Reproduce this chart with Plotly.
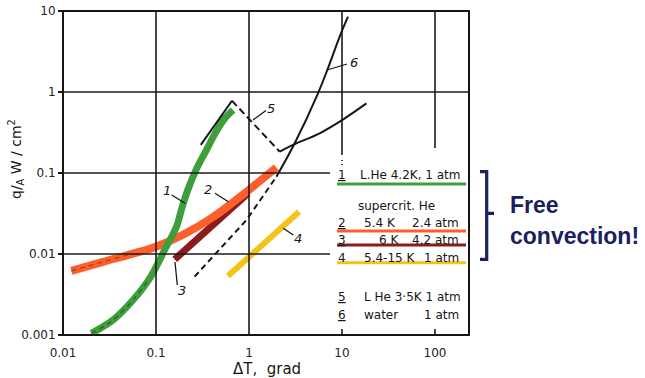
import plotly.graph_objects as go

# ---------------- data ----------------
# 1: L.He 4.2 K, 1 atm (green)
c1_x = [0.0202, 0.0345, 0.0566, 0.0855, 0.129, 0.166, 0.19, 0.22, 0.27, 0.348, 0.447, 0.548, 0.673]
c1_y = [0.00105, 0.00153, 0.0027, 0.005, 0.0123, 0.0217, 0.037, 0.062, 0.11, 0.192, 0.33, 0.47, 0.6]
# 2: supercrit. He 5.4 K 2.4 atm (orange)
c2_x = [0.0123, 0.0269, 0.0566, 0.1, 0.2, 0.4, 0.7, 1.0, 1.97]
c2_y = [0.0062, 0.008, 0.0101, 0.0123, 0.0175, 0.028, 0.045, 0.062, 0.117]
# 3: 6 K 4.2 atm (dark red)
c3_x = [0.159, 0.975]
c3_y = [0.0086, 0.056]
# 4: 5.4-15 K 1 atm (yellow)
c4_x = [0.594, 3.45]
c4_y = [0.00535, 0.0333]
# 5: L He 3.5 K 1 atm (black; rising, dashed transition, film branch)
c5a_x = [0.303, 0.656]
c5a_y = [0.222, 0.78]
c5b_x = [0.656, 2.14]
c5b_y = [0.78, 0.183]
c5c_x = [2.14, 2.97, 5.75, 9.44, 18.3]
c5c_y = [0.183, 0.222, 0.309, 0.43, 0.724]
# 6: water 1 atm (black), with dashed lower part
c6d_x = [0.26, 0.94, 1.97]
c6d_y = [0.00525, 0.0263, 0.09]
c6_x = [1.97, 3.1, 5.52, 7.06, 9.44, 11.6]
c6_y = [0.09, 0.233, 0.964, 1.96, 4.82, 8.5]

x_ticks = [0.01, 0.1, 1, 10, 100]
x_ticktext = ["0.01", "0.1", "1", "10", "100"]
y_ticks = [0.001, 0.01, 0.1, 1, 10]
y_ticktext = ["0.001", "0.01", "0.1", "1", "10"]

legend_rows = [
    ("1", "L.He 4.2K, 1 atm", ""),
    ("2", "5.4 K", "2.4 atm"),
    ("3", "6 K", "4.2 atm"),
    ("4", "5.4-15 K", "1 atm"),
    ("5", "L He 3·5K 1 atm", ""),
    ("6", "water", "1 atm"),
]

# ---------------- styling / layout helpers ----------------
W, H = 645, 378
L, R, T, B = 63, 469, 11, 335   # pixel frame of the plot area
DEC_X = 93.0


def px(xp):
    return (xp - L) / (R - L)


def py(yp):
    return (B - yp) / (B - T)


GREEN = "#3f9e3c"
ORANGE = "#fb5f2c"
DKRED = "#8c1c1c"
YELLOW = "#f3c417"
NAVY = "#1b2160"
INK = "#161616"
FONT = "DejaVu Sans"

fig = go.Figure()


def add_line(x, y, color, width, dash="solid", shape="linear", opacity=1.0):
    fig.add_trace(go.Scatter(x=x, y=y, mode="lines", opacity=opacity,
                             line=dict(color=color, width=width, dash=dash, shape=shape, smoothing=1.0),
                             hoverinfo="skip"))


add_line(c6d_x, c6d_y, INK, 2, dash="6px,4px")
add_line(c4_x, c4_y, YELLOW, 6)
add_line(c3_x, c3_y, DKRED, 7)
add_line(c2_x, c2_y, ORANGE, 8, shape="spline")
add_line(c2_x[:3], c2_y[:3], "#b53a18", 1.2, dash="5px,4px", shape="spline")
add_line(c1_x, c1_y, GREEN, 7, shape="spline")
add_line(c1_x[:4], c1_y[:4], "#245f22", 1.2, dash="5px,4px", shape="spline")
add_line(c5a_x, c5a_y, INK, 2)
add_line(c5b_x, c5b_y, INK, 2, dash="7px,4px")
add_line(c5c_x, c5c_y, INK, 2, shape="spline")
add_line(c6_x, c6_y, INK, 2, shape="spline")

shapes = []
GRID = dict(color="#1a1a1a", width=1.6)
for xv in [0.1, 1]:
    shapes.append(dict(type="line", xref="x", yref="paper", x0=xv, x1=xv, y0=0, y1=1, line=GRID))
for xv, ytop in [(10, 155), (100, 148)]:
    shapes.append(dict(type="line", xref="x", yref="paper", x0=xv, x1=xv, y0=py(ytop), y1=1, line=GRID))
    shapes.append(dict(type="line", xref="x", yref="paper", x0=xv, x1=xv, y0=0, y1=py(329), line=GRID))
shapes.append(dict(type="line", xref="x", yref="paper", x0=10, x1=10, y0=py(165), y1=py(158),
                   line=dict(color="#1a1a1a", width=1.6, dash="1px,3px")))
shapes.append(dict(type="line", xref="paper", yref="y", x0=0, x1=1, y0=1, y1=1, line=GRID))
for yv in [0.1, 0.01]:
    shapes.append(dict(type="line", xref="paper", yref="y", x0=0, x1=px(330), y0=yv, y1=yv, line=GRID))
shapes.append(dict(type="rect", xref="paper", yref="paper", x0=0, x1=1, y0=0, y1=1,
                   line=dict(color=INK, width=2)))

for yp, col in [(184, GREEN), (231, ORANGE), (245, DKRED), (262.7, YELLOW)]:
    shapes.append(dict(type="line", xref="paper", yref="paper", x0=px(337), x1=px(466),
                       y0=py(yp), y1=py(yp), line=dict(color=col, width=3)))

for (xa, ya, xb, yb) in [(171.7, 195, 185, 203.3), (215, 193.3, 228.3, 201.7),
                         (175, 262, 177.3, 285), (283.3, 228.3, 293.3, 235),
                         (253, 120, 266, 110.5), (327, 70, 347, 64)]:
    shapes.append(dict(type="line", xref="paper", yref="paper", x0=px(xa), x1=px(xb),
                       y0=py(ya), y1=py(yb), line=dict(color=INK, width=1.3)))

bx, btop, bbot, bmid = 486.7, 171.7, 259.3, 213.3
path = (f"M {px(480)} {py(btop)} L {px(bx)} {py(btop)} L {px(bx)} {py(bbot)} L {px(480)} {py(bbot)} "
        f"M {px(bx)} {py(bmid)} L {px(494)} {py(bmid)}")
shapes.append(dict(type="path", xref="paper", yref="paper", path=path,
                   line=dict(color=NAVY, width=3.2)))

ann = []


def text(xp, yp, s, size=11, anchor="center", color=INK, family=FONT, **kw):
    ann.append(dict(xref="paper", yref="paper", x=px(xp), y=py(yp), text=s, showarrow=False,
                    xanchor=anchor, yanchor="middle", font=dict(family=family, size=size, color=color), **kw))


for s, xp, yp in [("1", 166.7, 190), ("2", 208.3, 189), ("3", 181.7, 290),
                  ("4", 298.3, 238.3), ("5", 271, 108), ("6", 354, 62)]:
    text(xp, yp, f"<i>{s}</i>", size=13)

LF = 12
rows_y = [175, 222.7, 240, 257.7, 296.7, 315]
for (num, a, b), yp in zip(legend_rows, rows_y):
    num_txt = num if num == "4" else f"<u>{num}</u>"
    text(341.7, yp, num_txt, size=LF)
    if num in ("1", "5"):
        text(463, yp, a, size=LF, anchor="right")
    elif num == "3":
        text(389, yp, a, size=LF)
        text(461, yp, b, size=LF, anchor="right")
    else:
        text(362, yp, a, size=LF, anchor="left")
        text(461, yp, b, size=LF, anchor="right")
text(396, 206, "supercrit. He", size=LF)

text(267, 369, "ΔT,  grad", size=15)
text(16, 159, "q/<sub>A</sub> W / cm<sup>2</sup>", size=14, textangle=-90)

text(508, 205, "<b>Free</b>", size=23, anchor="left", color=NAVY, family="Liberation Sans")
text(508, 236, "<b>convection!</b>", size=23, anchor="left", color=NAVY, family="Liberation Sans")

fig.update_layout(
    width=W, height=H,
    margin=dict(l=L, r=W - R, t=T, b=H - B, pad=0, autoexpand=False),
    paper_bgcolor="white", plot_bgcolor="white", showlegend=False,
    shapes=shapes, annotations=ann,
    xaxis=dict(type="log", range=[-2, -2 + (R - L) / DEC_X], showgrid=False, zeroline=False,
               showline=False, automargin=False,
               tickvals=x_ticks, ticktext=x_ticktext, ticks="outside", ticklen=7,
               tickcolor="rgba(0,0,0,0)", tickfont=dict(family=FONT, size=12, color="#222")),
    yaxis=dict(type="log", range=[-3, 1], showgrid=False, zeroline=False,
               showline=False, automargin=False, ticklabeloverflow="allow",
               tickvals=y_ticks, ticktext=y_ticktext, ticks="outside", ticklen=4, tickwidth=1.5,
               tickcolor=INK, tickfont=dict(family=FONT, size=12, color="#222")),
)

# let the 645x378 figure fill the window exactly (no default 8px body margin)
fig.write_html("out.html", config={"displayModeBar": False, "staticPlot": True},
               post_script="document.body.style.margin='0px';")
